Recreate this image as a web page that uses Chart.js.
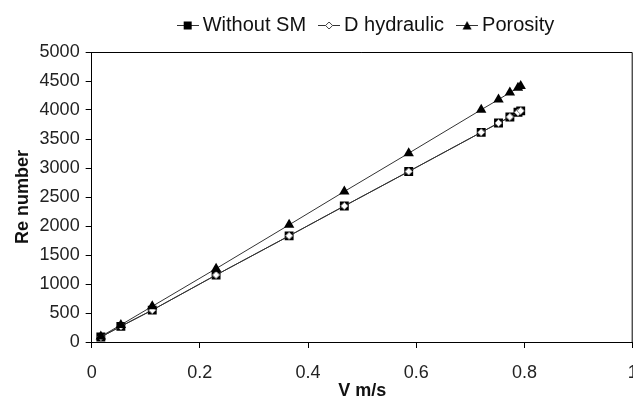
<!DOCTYPE html>
<html>
<head>
<meta charset="utf-8">
<script src="https://cdn.jsdelivr.net/npm/chart.js@4.4.0/dist/chart.umd.min.js"></script>
<style>
  html, body { margin: 0; padding: 0; background: #fff; overflow: hidden; }
  #clip { position: relative; width: 633px; height: 400px; overflow: hidden; }
  #wrap { position: absolute; left: 0; top: 0; width: 639px; height: 400px; }
</style>
</head>
<body>
<div id="clip"><div id="wrap"><canvas id="reChart"></canvas></div></div>
<script>
// ── data ────────────────────────────────────────────────────────────────────
const velocity   = [0.017, 0.054, 0.112, 0.230, 0.365, 0.467, 0.586, 0.720, 0.752, 0.773, 0.788, 0.793];
const reWithout  = [85, 270, 550, 1155, 1830, 2345, 2940, 3615, 3775, 3880, 3960, 3985];
const reHydraulic = [85, 270, 550, 1155, 1830, 2345, 2940, 3615, 3775, 3880, 3960, 3985];
const rePorosity = [95, 295, 615, 1265, 2020, 2595, 3255, 4005, 4180, 4300, 4385, 4415];
const seriesNames = ['Without SM', 'D hydraulic', 'Porosity'];
const xTicks = [0, 0.2, 0.4, 0.6, 0.8, 1];
const yTicks = [0, 500, 1000, 1500, 2000, 2500, 3000, 3500, 4000, 4500, 5000];

const FONT = '"Liberation Sans", Arial, sans-serif';
const LINE = '#333';
const X_TICK_PAD = 16;

const toPoints = ys => ys.map((y, i) => ({ x: velocity[i], y }));

/** legend icon: short line with the marker in the middle */
function legendIcon(shape) {
  const c = document.createElement('canvas');
  c.width = 22; c.height = 12;
  const g = c.getContext('2d');
  g.strokeStyle = LINE; g.lineWidth = 1;
  g.beginPath(); g.moveTo(0, 6.5); g.lineTo(22, 6.5); g.stroke();
  g.fillStyle = '#000';
  if (shape === 'rect') {
    g.fillRect(7, 2.5, 8, 8);
  } else if (shape === 'rectRot') {
    g.fillStyle = '#fff'; g.strokeStyle = '#444';
    g.beginPath(); g.moveTo(11, 3); g.lineTo(14.5, 6.5); g.lineTo(11, 10); g.lineTo(7.5, 6.5); g.closePath();
    g.fill(); g.stroke();
  } else {
    g.beginPath(); g.moveTo(11, 2); g.lineTo(15.5, 10.5); g.lineTo(6.5, 10.5); g.closePath(); g.fill();
  }
  return c;
}

// top + right frame of the plot area; legend nudged like the original
const framePlugin = {
  id: 'frame',
  afterLayout(chart) {
    const lg = chart.legend;
    if (lg) { lg.left += 45; lg.right += 45; lg.top -= 7; lg.bottom -= 7; }
  },
  beforeDatasetsDraw(chart) {
    const { ctx, chartArea: a } = chart;
    ctx.save();
    ctx.strokeStyle = '#000';
    ctx.lineWidth = 1;
    ctx.beginPath();
    ctx.moveTo(a.left, a.top + 0.5); ctx.lineTo(a.right - 0.5, a.top + 0.5); ctx.lineTo(a.right - 0.5, a.bottom);
    ctx.stroke();
    ctx.restore();
  }
};

const datasets = [
  {
    label: seriesNames[0], data: toPoints(reWithout), order: 2,
    borderColor: LINE, borderWidth: 1, showLine: true,
    pointStyle: 'rect', pointRadius: 6.3, backgroundColor: '#000', pointBorderColor: '#000', pointBorderWidth: 0,
    icon: legendIcon('rect'),
  },
  {
    label: seriesNames[1], data: toPoints(reHydraulic), order: 1,
    borderColor: LINE, borderWidth: 1, showLine: true,
    pointStyle: 'rectRot', pointRadius: 3.6, backgroundColor: '#fff', pointBorderColor: '#888', pointBorderWidth: 1,
    icon: legendIcon('rectRot'),
  },
  {
    label: seriesNames[2], data: toPoints(rePorosity), order: 0,
    borderColor: LINE, borderWidth: 1, showLine: true,
    pointStyle: 'triangle', pointRadius: 6, backgroundColor: '#000', pointBorderColor: '#000', pointBorderWidth: 0,
    icon: legendIcon('triangle'),
  },
];

new Chart(document.getElementById('reChart'), {
  type: 'scatter',
  data: { datasets },
  plugins: [framePlugin],
  options: {
    animation: false,
    responsive: true,
    maintainAspectRatio: false,
    layout: { padding: { left: 8, right: 0, top: 4, bottom: 0 } },
    scales: {
      x: {
        type: 'linear', min: 0, max: 1,
        afterBuildTicks: s => { s.ticks = xTicks.map(v => ({ value: v })); },
        afterFit: s => {
          s.paddingRight = 0;        // the "1" runs off the right edge, as in the original
          s.height -= X_TICK_PAD;    // tick padding is counted twice in the fit
        },
        ticks: { color: '#222', font: { family: FONT, size: 18, lineHeight: 1 }, padding: X_TICK_PAD, maxRotation: 0, callback: v => String(v) },
        grid: { drawOnChartArea: false, drawTicks: true, tickLength: 6, color: '#000' },
        border: { display: true, color: '#000', width: 1 },
        title: { display: true, text: 'V m/s', color: '#111', font: { family: FONT, size: 18, weight: 'bold', lineHeight: 1 }, padding: { top: 0, bottom: 0 } },
      },
      y: {
        type: 'linear', min: 0, max: 5000,
        afterBuildTicks: s => { s.ticks = yTicks.map(v => ({ value: v })); },
        ticks: { color: '#222', font: { family: FONT, size: 18 }, padding: 6, callback: v => String(v) },
        grid: { drawOnChartArea: false, drawTicks: true, tickLength: 6, color: '#000' },
        border: { display: true, color: '#000', width: 1 },
        title: { display: true, text: 'Re number', color: '#111', font: { family: FONT, size: 18, weight: 'bold' }, padding: { top: 4, bottom: 0 } },
      },
    },
    plugins: {
      legend: {
        position: 'top',
        labels: {
          color: '#111',
          font: { family: FONT, size: 20 },
          usePointStyle: true,
          pointStyleWidth: 10,
          padding: 18,
          generateLabels: chart => chart.data.datasets.map((ds, i) => ({
            text: ds.label, datasetIndex: i, pointStyle: ds.icon,
            fillStyle: '#000', strokeStyle: '#000', lineWidth: 0, hidden: false, fontColor: '#111',
          })),
        },
      },
      tooltip: { enabled: false },
    },
  },
});
</script>
</body>
</html>
